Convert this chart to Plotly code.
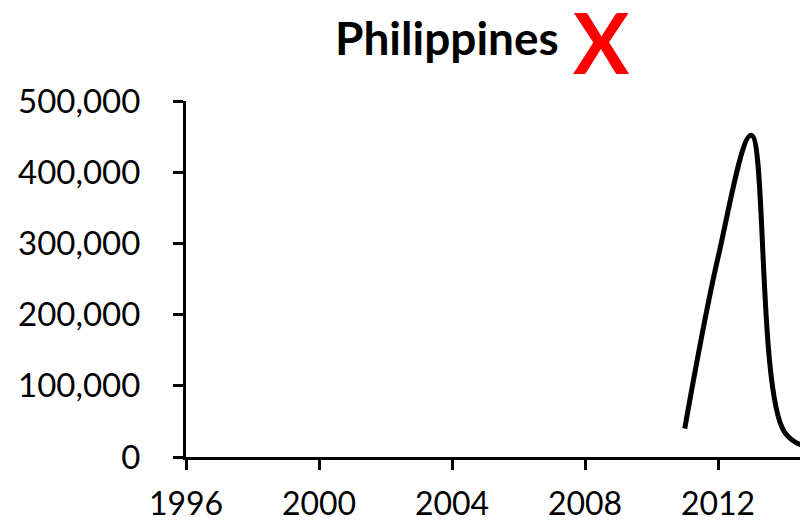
import plotly.graph_objects as go

years = [2011, 2012, 2013, 2014, 2015]
values = [40000, 280000, 452000, 35000, 10000]

x_tickvals = [1996, 2000, 2004, 2008, 2012]
y_tickvals = [0, 100000, 200000, 300000, 400000, 500000]
y_ticktext = ["0", "100,000", "200,000", "300,000", "400,000", "500,000"]

title_text = "Philippines"
mark_text = "X"

fig = go.Figure()
fig.add_trace(go.Scatter(
    x=years, y=values, mode="lines",
    line=dict(color="black", width=5, shape="spline", smoothing=1.0),
    hoverinfo="skip", showlegend=False,
))

font_family = "Lato, Calibri, Carlito, sans-serif"

# page body has an 8px default margin; compensate so the plot sits where the reference has it
fig.update_layout(
    width=800, height=514,
    margin=dict(l=178, r=0, t=93, b=65, autoexpand=False),
    paper_bgcolor="white", plot_bgcolor="white",
    font=dict(family=font_family, color="black", size=33),
    xaxis=dict(
        range=[1996, 1996 + 622 / 33.25], tickvals=x_tickvals,
        ticks="outside", ticklen=10, tickwidth=3, tickcolor="black",
        showline=True, linewidth=3, linecolor="black",
        showgrid=False, zeroline=False, automargin=False,
        tickfont=dict(size=32), ticklabelstandoff=7,
    ),
    yaxis=dict(
        range=[0, 500000], tickvals=y_tickvals, ticktext=y_ticktext,
        ticks="outside", ticklen=10, tickwidth=3, tickcolor="black",
        showline=True, linewidth=3, linecolor="black",
        showgrid=False, zeroline=False, automargin=False,
        tickfont=dict(size=33), ticklabelstandoff=26,
    ),
    annotations=[
        dict(text="<b>" + title_text + "</b>", xref="paper", yref="paper",
             x=(447 - 186) / 622, y=(457 - 37) / 356, xanchor="center", yanchor="middle",
             showarrow=False, font=dict(size=46, family=font_family, color="black")),
        dict(text="<b>" + mark_text + "</b>", xref="paper", yref="paper",
             x=(601 - 186) / 622, y=(457 - 41) / 356, xanchor="center", yanchor="middle",
             showarrow=False, font=dict(size=84, family=font_family, color="#ff0000")),
    ],
)

fig.write_html("out.html")
